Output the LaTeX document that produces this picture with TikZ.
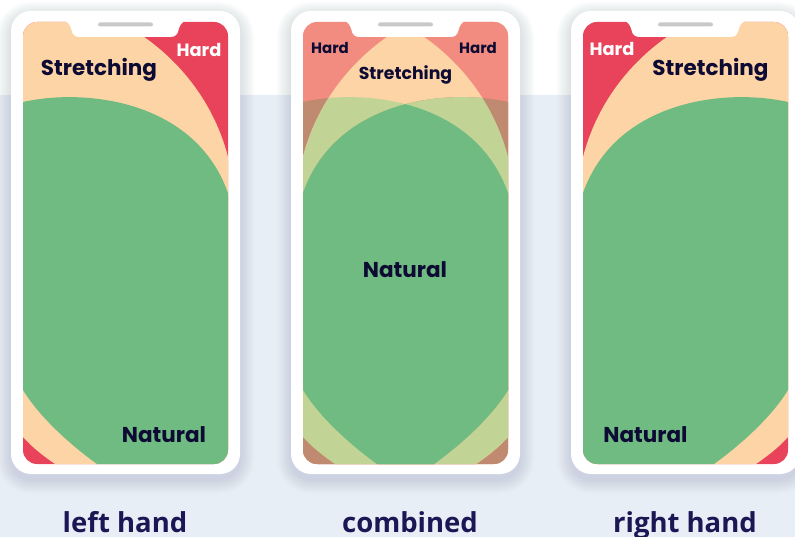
\documentclass[tikz,border=0pt]{standalone}
\usepackage{fontspec}
\newfontfamily\popb{Poppins}
\newfontfamily\labf{Open Sans}
\definecolor{hred}{HTML}{E8435A}
\definecolor{peach}{HTML}{FDD4A5}
\definecolor{zgreen}{HTML}{70BB81}
\definecolor{lightred}{HTML}{F28C80}
\definecolor{mixbrown}{HTML}{BF8A6F}
\definecolor{mixyg}{HTML}{C2D396}
\definecolor{bgblue}{HTML}{E8EEF6}
\definecolor{ink}{HTML}{0D0B33}
\definecolor{navy}{HTML}{1B1754}
\definecolor{spk}{HTML}{C9C9C9}
\definecolor{shadowc}{HTML}{8A97B5}
\newcommand\peachpath{(0,410) -- (0,0) -- (90,0) -- (107,15) -- (125,25)
     .. controls (170,50) and (212,95) .. (228,157) -- (236,185) -- (250,185)
     -- (250,490) -- (80,490) -- (68,473) -- (55,464)
     .. controls (42,455) and (32,447) .. (23,437) -- (13,426) -- cycle}
\newcommand\greenpath{(10,105) -- (23,102) .. controls (85,88) and (195,100) .. (228,193)
     -- (245,240) -- (245,490) -- (130,490) -- (122,482) -- (97,464)
     .. controls (72,446) and (40,418) .. (23,390) -- (10,369) -- cycle}
\newcommand\screenrect{(0,0) rectangle (260,490)}
\tikzset{mirror/.style={shift={(251,0)}, xscale=-1}}
\newcommand\zoneL{%
  \fill[hred] \screenrect;
  \fill[peach] \peachpath;
  \fill[zgreen] \greenpath;
}
\newcommand\zoneC{%
  \fill[lightred] \screenrect;
  \begin{scope}\clip \greenpath; \fill[mixbrown] \screenrect; \end{scope}
  \begin{scope}\clip[mirror] \peachpath;
    \fill[lightred] \screenrect;
    \begin{scope}\clip \peachpath; \fill[peach] \screenrect;
      \begin{scope}\clip \greenpath; \fill[mixyg] \screenrect; \end{scope}
    \end{scope}
  \end{scope}
  \begin{scope}\clip[mirror] \greenpath;
    \fill[mixbrown] \screenrect;
    \begin{scope}\clip \peachpath; \fill[mixyg] \screenrect;
      \begin{scope}\clip \greenpath; \fill[zgreen] \screenrect; \end{scope}
    \end{scope}
  \end{scope}
}
\newcommand\shell{%
  \foreach \i [evaluate=\i as \r using 20+\i] in {1,...,14}
    \fill[shadowc, opacity=0.018, rounded corners=\r] (11-\i,11-\i+5) rectangle (240+\i,474+\i+5);
  \fill[white, rounded corners=20] (11,11) rectangle (240,474);
}
\newcommand\notch{%
  \fill[white] (58,15) -- (66,15) -- (66.5,22) .. controls (68.5,23) and (70.5,26) .. (71.5,30)
    .. controls (72.5,35) and (75,37) .. (80,37) -- (170,37)
    .. controls (175,37) and (177.5,35) .. (178.5,30)
    .. controls (179.5,26) and (181.5,23) .. (183.5,22) -- (184,15) -- (192,15) -- cycle;
  \fill[spk, rounded corners=2] (98,22.5) rectangle (153,26.5);
}
\newcommand\screenclip{\clip[rounded corners=14] (23,22) rectangle (228,464);}
\tikzset{
  zonetext/.style={anchor=base, text=ink, inner sep=0pt},
  hardw/.style={anchor=base, text=white, inner sep=0pt},
  caption/.style={anchor=base, text=navy, inner sep=0pt, font=\labf\bfseries\fontsize{27.5}{31}\selectfont}
}
\begin{document}
\begin{tikzpicture}[x=1pt,y=-1pt]
\useasboundingbox (0,0) rectangle (795,537);
\fill[white] (0,0) rectangle (795,95);
\fill[bgblue] (0,95) rectangle (795,537);
% phone 1: left hand
\begin{scope}
  \shell
  \begin{scope}\screenclip \zoneL \end{scope}
  \notch
\end{scope}
% phone 2: combined
\begin{scope}[shift={(280,0)}]
  \shell
  \begin{scope}\screenclip \zoneC \end{scope}
  \notch
\end{scope}
% phone 3: right hand
\begin{scope}[shift={(560,0)}]
  \shell
  \begin{scope}\screenclip
    \begin{scope}[mirror]\zoneL\end{scope}
  \end{scope}
  \notch
\end{scope}
% texts
\node[zonetext, font=\popb\bfseries\fontsize{21.5}{25}\selectfont] (s1) at (99,76) {Stretching};
\node[hardw, font=\popb\bfseries\fontsize{17.8}{20}\selectfont] (h1) at (199,57) {Hard};
\node[zonetext, font=\popb\bfseries\fontsize{21.5}{25}\selectfont] (n1) at (164,442) {Natural};
\node[zonetext, font=\popb\bfseries\fontsize{15}{17}\selectfont] (h2a) at (330,54) {Hard};
\node[zonetext, font=\popb\bfseries\fontsize{15}{17}\selectfont] (h2b) at (478,54) {Hard};
\node[zonetext, font=\popb\bfseries\fontsize{17.3}{20}\selectfont] (s2) at (405.5,80) {Stretching};
\node[zonetext, font=\popb\bfseries\fontsize{21.5}{25}\selectfont] (n2) at (405,278) {Natural};
\node[hardw, font=\popb\bfseries\fontsize{17.8}{20}\selectfont] (h3) at (612,56) {Hard};
\node[zonetext, font=\popb\bfseries\fontsize{21.5}{25}\selectfont] (s3) at (710.5,76) {Stretching};
\node[zonetext, font=\popb\bfseries\fontsize{21.5}{25}\selectfont] (n3) at (645.5,442) {Natural};
\node[caption] (c1) at (125,532) {left hand};
\node[caption] (c2) at (410,532) {combined};
\node[caption] (c3) at (685,532) {right hand};
\end{tikzpicture}
\end{document}
